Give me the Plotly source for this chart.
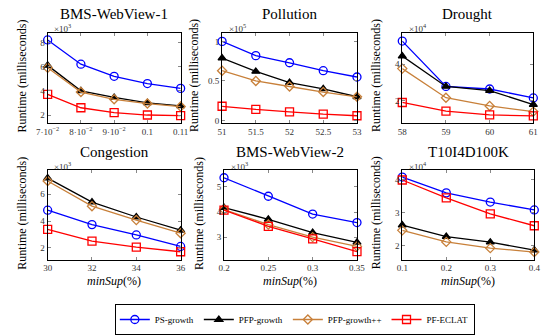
import plotly.graph_objects as go

W, H = 550, 335
FONT = "Liberation Serif"

series_names = ["PS-growth", "PFP-growth", "PFP-growth++", "PF-ECLAT"]
colors = ["#0000ff", "#000000", "#c8803a", "#ff0000"]
symbols = ["circle-open", "triangle-up", "diamond-open", "square-open"]
msizes = [8, 7, 7, 8]

# Values are runtimes expressed in units of the panel's scale factor
bms1_x = [0.07, 0.08, 0.09, 0.10, 0.11]
bms1_ticktext = ["7·10<sup>−2</sup>", "8·10<sup>−2</sup>", "9·10<sup>−2</sup>", "0.1", "0.11"]
bms1_ps = [8.2, 6.2, 5.2, 4.6, 4.2]
bms1_pfp = [6.1, 4.0, 3.45, 3.0, 2.75]
bms1_pfpp = [5.9, 3.9, 3.3, 2.95, 2.7]
bms1_eclat = [3.7, 2.6, 2.2, 2.0, 1.95]

poll_x = [51, 51.5, 52, 52.5, 53]
poll_ps = [1.0, 0.82, 0.73, 0.63, 0.55]
poll_pfp = [0.79, 0.62, 0.48, 0.40, 0.30]
poll_pfpp = [0.63, 0.50, 0.43, 0.36, 0.30]
poll_eclat = [0.18, 0.14, 0.11, 0.08, 0.06]

drought_x = [58, 59, 60, 61]
drought_ps = [5.27, 2.78, 2.64, 2.15]
drought_pfp = [4.45, 2.78, 2.55, 1.78]
drought_pfpp = [3.76, 2.16, 1.71, 1.40]
drought_eclat = [1.90, 1.42, 1.22, 1.16]

cong_x = [30, 32, 34, 36]
cong_ps = [4.81, 3.73, 2.96, 2.10]
cong_pfp = [7.21, 5.41, 4.30, 3.31]
cong_pfpp = [6.99, 5.11, 4.07, 3.09]
cong_eclat = [3.38, 2.49, 2.05, 1.70]

bms2_x = [0.2, 0.25, 0.3, 0.35]
bms2_ps = [5.37, 4.63, 3.92, 3.58]
bms2_pfp = [4.18, 3.71, 3.18, 2.79]
bms2_pfpp = [4.10, 3.50, 3.00, 2.63]
bms2_eclat = [4.08, 3.43, 2.93, 2.42]

t10_x = [0.1, 0.2, 0.3, 0.4]
t10_ps = [4.08, 3.60, 3.32, 3.08]
t10_pfp = [2.62, 2.27, 2.10, 1.86]
t10_pfpp = [2.46, 2.11, 1.92, 1.80]
t10_eclat = [3.99, 3.45, 2.96, 2.60]

panels = [
    dict(title="BMS-WebView-1", x=bms1_x, ys=[bms1_ps, bms1_pfp, bms1_pfpp, bms1_eclat],
         exp="3", xdom=(37, 175), ydom=(33, 124), yrange=[1.35, 8.8], ytick=[2, 4, 6, 8],
         xtick=bms1_x, xtext=bms1_ticktext, ylab=10, xlab=False),
    dict(title="Pollution", x=poll_x, ys=[poll_ps, poll_pfp, poll_pfpp, poll_eclat],
         exp="5", xdom=(218, 358), ydom=(33, 124), yrange=[-0.03, 1.11], ytick=[0, 0.5, 1],
         xtick=poll_x, xtext=["51", "51.5", "52", "52.5", "53"], ylab=189, xlab=False),
    dict(title="Drought", x=drought_x, ys=[drought_ps, drought_pfp, drought_pfpp, drought_eclat],
         exp="4", xdom=(405, 541), ydom=(33, 124), yrange=[0.78, 5.73], ytick=[2, 4],
         xtick=drought_x, xtext=["58", "59", "60", "61"], ylab=378, xlab=False),
    dict(title="Congestion", x=cong_x, ys=[cong_ps, cong_pfp, cong_pfpp, cong_eclat],
         exp="3", xdom=(37, 175), ydom=(172, 262), yrange=[1.11, 7.78], ytick=[2, 4, 6],
         xtick=cong_x, xtext=["30", "32", "34", "36"], ylab=10, xlab=True),
    dict(title="BMS-WebView-2", x=bms2_x, ys=[bms2_ps, bms2_pfp, bms2_pfpp, bms2_eclat],
         exp="3", xdom=(220, 358), ydom=(172, 262), yrange=[2.1, 5.66], ytick=[3, 4, 5],
         xtick=bms2_x, xtext=["0.2", "0.25", "0.3", "0.35"], ylab=194, xlab=True),
    dict(title="T10I4D100K", x=t10_x, ys=[t10_ps, t10_pfp, t10_pfpp, t10_eclat],
         exp="4", xdom=(405, 542), ydom=(172, 262), yrange=[1.57, 4.28], ytick=[2, 3, 4],
         xtick=t10_x, xtext=["0.1", "0.2", "0.3", "0.4"], ylab=378, xlab=True),
]

fig = go.Figure()
annotations = []
layout = {}
for i, p in enumerate(panels):
    k = "" if i == 0 else str(i + 1)
    xa, ya = "x" + k, "y" + k
    for j in range(4):
        fig.add_trace(go.Scatter(
            x=p["x"], y=p["ys"][j], xaxis=xa, yaxis=ya, mode="lines+markers",
            name=series_names[j], showlegend=(i == 0), legendgroup=series_names[j],
            line=dict(color=colors[j], width=1.3),
            marker=dict(symbol=symbols[j], size=msizes[j], color=colors[j],
                        line=dict(color=colors[j], width=1.3)),
            cliponaxis=False))
    x0, x1 = p["xdom"]
    y0, y1 = p["ydom"]
    common = dict(showline=True, linecolor="black", linewidth=1, mirror="ticks",
                  ticks="inside", ticklen=3, tickcolor="#888", showgrid=False,
                  zeroline=False, tickfont=dict(family=FONT, size=9, color="#333"))
    layout["xaxis" + k] = dict(domain=[x0 / W, x1 / W], anchor=ya,
                               range=[min(p["x"]), max(p["x"])],
                               tickvals=p["xtick"], ticktext=p["xtext"], **common)
    layout["yaxis" + k] = dict(domain=[1 - y1 / H, 1 - y0 / H], anchor=xa,
                               range=p["yrange"], tickvals=p["ytick"], **common)
    cx = (x0 + x1) / 2 / W
    annotations.append(dict(text=p["title"], x=cx, y=1 - (y0 - 19) / H, xref="paper", yref="paper",
                            xanchor="center", yanchor="middle",
                            showarrow=False, font=dict(family=FONT, size=15, color="black")))
    annotations.append(dict(text="×10<sup>" + p["exp"] + "</sup>", x=(x0 + 5) / W, y=1 - (y0 - 5) / H,
                            xref="paper", yref="paper", xanchor="left", yanchor="middle",
                            showarrow=False, font=dict(family=FONT, size=9, color="#333")))
    annotations.append(dict(text="Runtime (milliseconds)", x=p["ylab"] / W, y=1 - ((y0 + y1) / 2 - 2) / H,
                            xref="paper", yref="paper", textangle=-90, showarrow=False,
                            xanchor="center", yanchor="middle",
                            font=dict(family=FONT, size=12, color="black")))
    if p["xlab"]:
        annotations.append(dict(text="<i>minSup</i>(%)", x=cx, y=1 - 284 / H, xref="paper", yref="paper",
                                xanchor="center", yanchor="middle",
                                showarrow=False, font=dict(family=FONT, size=12, color="black")))

fig.update_layout(
    width=W, height=H, margin=dict(l=0, r=0, t=0, b=0),
    paper_bgcolor="white", plot_bgcolor="white",
    annotations=annotations,
    legend=dict(orientation="h", x=293.5 / W, y=1 - 307 / H, xanchor="center", yanchor="top",
                bordercolor="black", borderwidth=1, bgcolor="white",
                font=dict(family=FONT, size=9, color="black"), itemwidth=30,
                tracegroupgap=0),
    showlegend=True,
    **layout,
)

fig.write_html("out.html", config={"displayModeBar": False},
               post_script="document.body.style.margin='0';")
